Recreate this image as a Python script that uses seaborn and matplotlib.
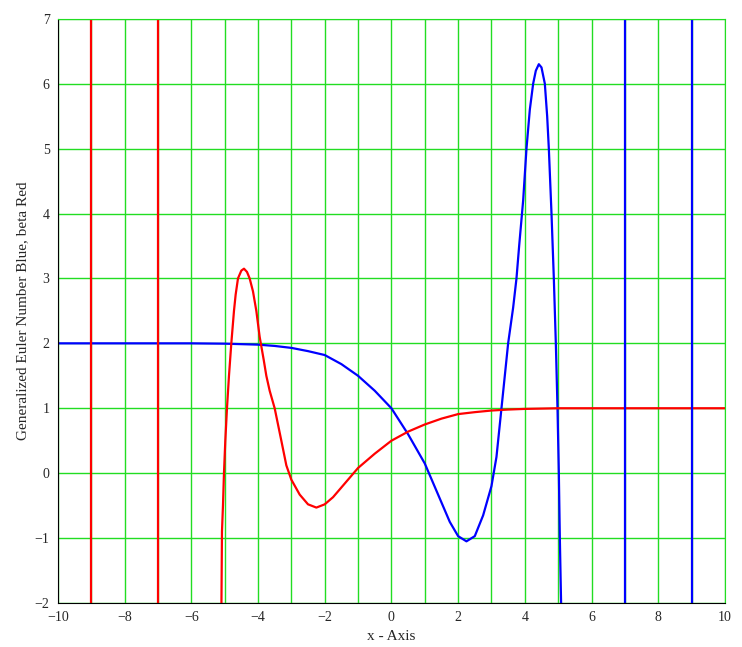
import numpy as np
import matplotlib
matplotlib.use("Agg")
import matplotlib.pyplot as plt
import seaborn as sns
import pandas as pd

blue_x = [-10, -6, -5, -4, -3.5, -3, -2.5, -2, -1.5, -1, -0.5, 0, 0.5, 1, 1.25, 1.5, 1.75, 2, 2.25, 2.5, 2.75, 3, 3.15, 3.3, 3.5, 3.65, 3.75, 3.83, 3.95, 4.05, 4.15, 4.25, 4.33, 4.42, 4.5, 4.6, 4.67, 4.72, 4.8, 4.87, 4.93, 4.98, 5.02, 5.05, 5.08, 5.1]
blue_y = [2, 2, 1.995, 1.98, 1.96, 1.93, 1.88, 1.82, 1.68, 1.5, 1.27, 1.0, 0.6, 0.15, -0.15, -0.45, -0.75, -0.97, -1.05, -0.97, -0.65, -0.2, 0.25, 1.0, 2.0, 2.55, 3.0, 3.5, 4.2, 5.0, 5.6, 6.0, 6.2, 6.3, 6.25, 6.0, 5.5, 5.0, 4.0, 3.0, 2.0, 1.0, 0.0, -1.0, -1.8, -2.3]
blue_pole_x = [7, 9]

red_x = [-5.1, -5.08, -5.05, -5.02, -4.98, -4.93, -4.87, -4.8, -4.72, -4.67, -4.6, -4.5, -4.42, -4.33, -4.25, -4.15, -4.05, -3.95, -3.83, -3.75, -3.65, -3.5, -3.3, -3.15, -3, -2.75, -2.5, -2.25, -2, -1.75, -1.5, -1.25, -1, -0.5, 0, 0.5, 1, 1.5, 2, 2.5, 3, 3.5, 4, 5, 10]
red_y = [-2.3, -0.9, -0.5, 0.0, 0.5, 1.0, 1.5, 2.0, 2.5, 2.75, 3.0, 3.12, 3.15, 3.1, 3.0, 2.8, 2.5, 2.1, 1.75, 1.5, 1.27, 1.0, 0.5, 0.12, -0.1, -0.33, -0.48, -0.53, -0.48, -0.37, -0.22, -0.07, 0.08, 0.3, 0.5, 0.64, 0.75, 0.84, 0.91, 0.94, 0.965, 0.98, 0.99, 1.0, 1.0]
red_pole_x = [-9, -7]

sns.set_style("white")
plt.rcParams['font.family'] = ['Liberation Serif', 'DejaVu Serif']
fig = plt.figure(figsize=(7.42, 6.47), dpi=100)
ax = fig.add_axes([0.078, 0.068, 0.899, 0.903])

grid_c = '#22dd22'
for v in range(-10, 11):
    ax.axvline(v, color=grid_c, lw=1, zorder=0)
for v in range(-2, 8):
    ax.axhline(v, color=grid_c, lw=1, zorder=0)

sns.lineplot(data=pd.DataFrame({'x': blue_x, 'y': blue_y}), x='x', y='y', color='#0000ff', lw=1.6, ax=ax, sort=False, estimator=None)
sns.lineplot(data=pd.DataFrame({'x': red_x, 'y': red_y}), x='x', y='y', color='#ff0000', lw=1.6, ax=ax, sort=False, estimator=None)
for p in blue_pole_x:
    ax.axvline(p, color='#0000ff', lw=1.6)
for p in red_pole_x:
    ax.axvline(p, color='#ff0000', lw=1.6)

ax.set_xlim(-10, 10)
ax.set_ylim(-2, 7)
ax.set_xticks(range(-10, 11, 2))
ax.set_yticks(range(-2, 8))
ax.set_xticklabels([f"{t}".replace('-', '\u2212') for t in range(-10, 11, 2)])
ax.set_yticklabels([f"{t}".replace('-', '\u2212') for t in range(-2, 8)])
ax.tick_params(labelsize=10, length=0, pad=6)
ax.set_xlabel("x - Axis", fontsize=11)
ax.set_ylabel("Generalized Euler Number Blue, beta Red", fontsize=11)
for s in ['top', 'right']:
    ax.spines[s].set_color(grid_c)
for s in ['left', 'bottom']:
    ax.spines[s].set_color('black')
fig.savefig("out.png", dpi=100)
